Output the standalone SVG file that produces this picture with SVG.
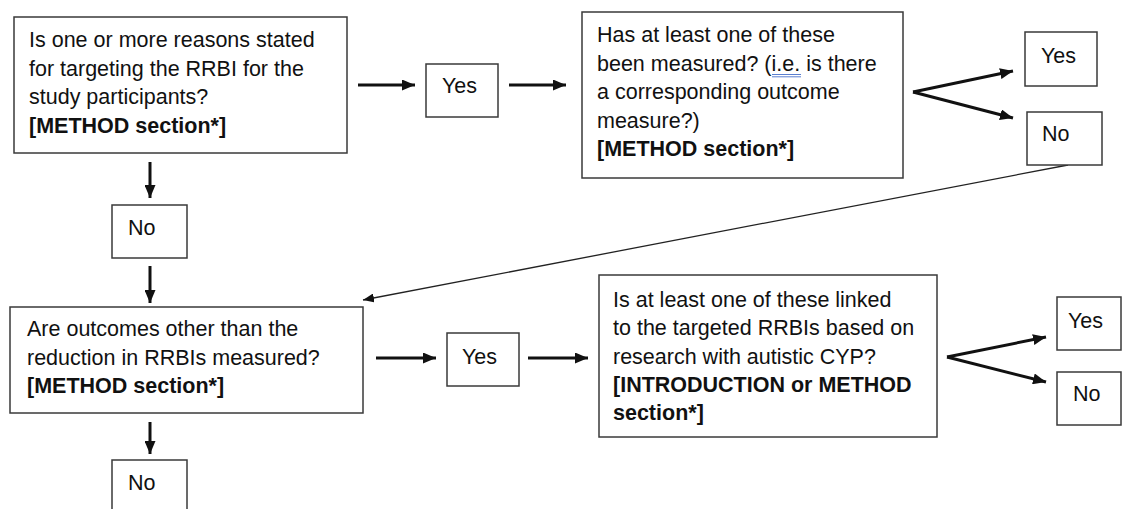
<svg xmlns="http://www.w3.org/2000/svg" width="1122" height="509" viewBox="0 0 1122 509">
<style>
.box{fill:#fff;stroke:#3a3a3a;stroke-width:1.5}
.t{font-family:"Liberation Sans",Arial,sans-serif;font-size:21.5px;fill:#111}
.b{font-weight:bold}
.c{stroke:#111;stroke-width:3;fill:none}
.thin{stroke:#222;stroke-width:1.3;fill:none}
</style>
<defs>
<marker id="ah" markerUnits="userSpaceOnUse" markerWidth="13" markerHeight="11" refX="13" refY="5.5" orient="auto"><path d="M0,0 L13,5.5 L0,11 z" fill="#111"/></marker>
<marker id="ahs" markerUnits="userSpaceOnUse" markerWidth="11" markerHeight="9" refX="11" refY="4.5" orient="auto"><path d="M0,0 L11,4.5 L0,9 z" fill="#111"/></marker>
</defs>
<g id="connectors">
<line class="c" x1="358" y1="85" x2="415" y2="85" marker-end="url(#ah)"/>
<line class="c" x1="509" y1="85" x2="566" y2="85" marker-end="url(#ah)"/>
<line class="c" x1="913" y1="92" x2="1013" y2="71" marker-end="url(#ah)"/>
<line class="c" x1="913" y1="92" x2="1013" y2="118" marker-end="url(#ah)"/>
<line class="c" x1="150" y1="162" x2="150" y2="198" marker-end="url(#ah)"/>
<line class="c" x1="150" y1="266" x2="150" y2="303" marker-end="url(#ah)"/>
<line class="thin" x1="1068" y1="165" x2="363" y2="300" marker-end="url(#ahs)"/>
<line class="c" x1="376" y1="358" x2="436" y2="358" marker-end="url(#ah)"/>
<line class="c" x1="528" y1="358" x2="588" y2="358" marker-end="url(#ah)"/>
<line class="c" x1="947" y1="357" x2="1046" y2="337" marker-end="url(#ah)"/>
<line class="c" x1="947" y1="357" x2="1046" y2="382" marker-end="url(#ah)"/>
<line class="c" x1="150" y1="422" x2="150" y2="454" marker-end="url(#ah)"/>
</g>
<g id="q1">
<rect class="box" x="14" y="17" width="333" height="136"/>
<text class="t" x="29" y="47">Is one or more reasons stated</text>
<text class="t" x="29" y="75.5">for targeting the RRBI for the</text>
<text class="t" x="29" y="104">study participants?</text>
<text class="t b" x="29" y="132.5">[METHOD section*]</text>
</g>
<g id="yes1">
<rect class="box" x="426" y="64" width="72" height="53"/>
<text class="t" x="442" y="93">Yes</text>
</g>
<g id="q2">
<rect class="box" x="582" y="12" width="321" height="166"/>
<text class="t" x="597" y="42">Has at least one of these</text>
<text class="t" x="597" y="70.5">been measured? (i.e. is there</text>
<text class="t" x="597" y="99">a corresponding outcome</text>
<text class="t" x="597" y="127.5">measure?)</text>
<text class="t b" x="597" y="156">[METHOD section*]</text>
<line x1="772" y1="74.5" x2="801" y2="74.5" stroke="#5a7fd0" stroke-width="1"/>
<line x1="772" y1="76.8" x2="801" y2="76.8" stroke="#5a7fd0" stroke-width="1"/>
</g>
<g id="yes2">
<rect class="box" x="1025" y="32" width="72" height="54"/>
<text class="t" x="1041" y="63">Yes</text>
</g>
<g id="no2">
<rect class="box" x="1027" y="112" width="75" height="53"/>
<text class="t" x="1042" y="141">No</text>
</g>
<g id="no1">
<rect class="box" x="112" y="205" width="75" height="53"/>
<text class="t" x="128" y="235">No</text>
</g>
<g id="q3">
<rect class="box" x="10" y="307" width="353" height="106"/>
<text class="t" x="27" y="336">Are outcomes other than the</text>
<text class="t" x="27" y="364.5">reduction in RRBIs measured?</text>
<text class="t b" x="27" y="393">[METHOD section*]</text>
</g>
<g id="yes3">
<rect class="box" x="447" y="333" width="72" height="53"/>
<text class="t" x="462" y="364">Yes</text>
</g>
<g id="q4">
<rect class="box" x="599" y="275" width="338" height="162"/>
<text class="t" x="613" y="307">Is at least one of these linked</text>
<text class="t" x="613" y="335.3">to the targeted RRBIs based on</text>
<text class="t" x="613" y="363.6">research with autistic CYP?</text>
<text class="t b" x="613" y="391.9">[INTRODUCTION or METHOD</text>
<text class="t b" x="613" y="420.2">section*]</text>
</g>
<g id="yes4">
<rect class="box" x="1057" y="297" width="64" height="53"/>
<text class="t" x="1068" y="328">Yes</text>
</g>
<g id="no4">
<rect class="box" x="1057" y="372" width="64" height="53"/>
<text class="t" x="1073" y="401">No</text>
</g>
<g id="no3">
<rect class="box" x="112" y="460" width="75" height="60"/>
<text class="t" x="128" y="490">No</text>
</g>
</svg>
